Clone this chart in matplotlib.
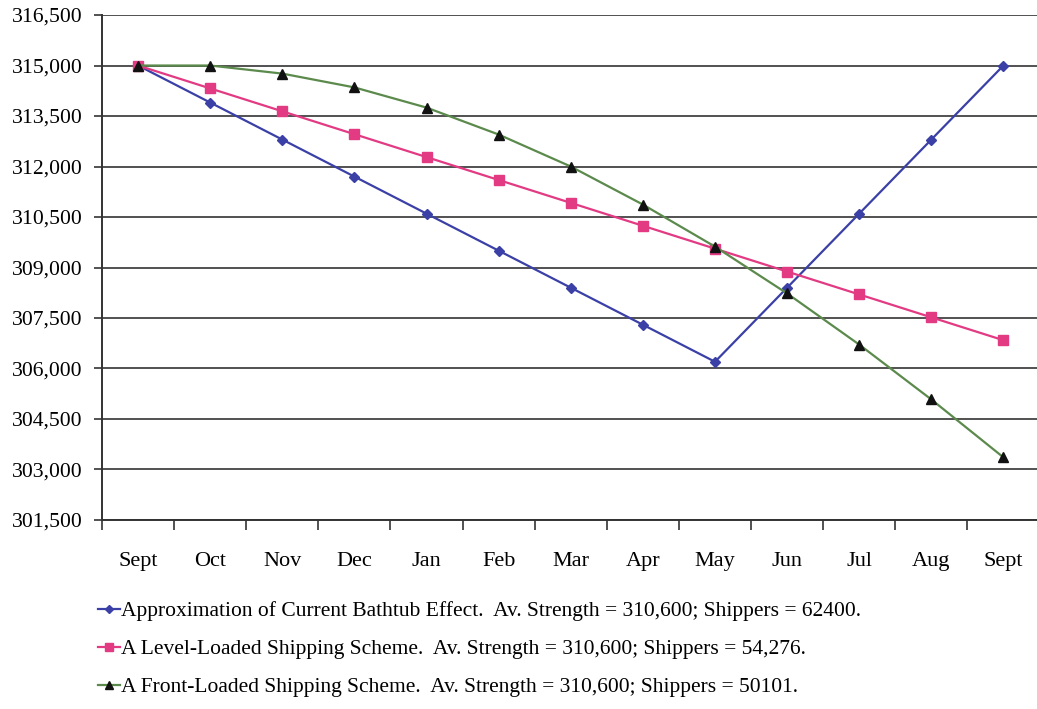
import numpy as np
import matplotlib
matplotlib.use("Agg")
import matplotlib.pyplot as plt
from matplotlib.ticker import FuncFormatter

months = ["Sept", "Oct", "Nov", "Dec", "Jan", "Feb", "Mar", "Apr", "May", "Jun", "Jul", "Aug", "Sept"]

bathtub = [315000, 313900, 312800, 311700, 310600, 309500, 308400, 307300, 306200,
           308400, 310600, 312800, 315000]
level = [315000, 314320, 313640, 312960, 312280, 311600, 310920, 310240, 309560,
         308880, 308200, 307520, 306840]
front = [315000, 315000, 314760, 314350, 313750, 312950, 312000, 310870, 309620,
         308230, 306710, 305080, 303360]

labels = ["Approximation of Current Bathtub Effect.  Av. Strength = 310,600; Shippers = 62400.",
          "A Level-Loaded Shipping Scheme.  Av. Strength = 310,600; Shippers = 54,276.",
          "A Front-Loaded Shipping Scheme.  Av. Strength = 310,600; Shippers = 50101."]

yticks = [301500, 303000, 304500, 306000, 307500, 309000, 310500, 312000, 313500, 315000, 316500]

plt.rcParams['font.family'] = ['Liberation Serif', 'DejaVu Serif']

fig = plt.figure(figsize=(10.37, 7.09), dpi=100)
ax = fig.add_axes([0.0984, 0.2666, 0.9040, 0.7122])

x = np.arange(len(months))
ax.plot(x, bathtub, color='#3b40a6', lw=1.6, marker='D', ms=5, mfc='#3b40a6', mec='#3b40a6', label=labels[0])
ax.plot(x, level, color='#e23a83', lw=1.6, marker='s', ms=7, mfc='#e23a83', mec='#e23a83', label=labels[1])
ax.plot(x, front, color='#5b8a4c', lw=1.6, marker='^', ms=7, mfc='#111111', mec='#111111', label=labels[2])

ax.set_xlim(-0.5, len(months) - 0.5)
ax.set_ylim(301500, 316500)
ax.set_yticks(yticks)
ax.yaxis.set_major_formatter(FuncFormatter(lambda v, p: f"{int(v):,}"))
ax.grid(axis='y', color='#333333', lw=1.2)
ax.set_axisbelow(True)

ax.set_xticks(x)
ax.set_xticklabels(months)
ax.set_xticks(np.arange(-0.5, len(months), 1.0), minor=True)
ax.tick_params(axis='x', which='major', length=0, pad=23, labelsize=16)
ax.tick_params(axis='x', which='minor', length=7, width=1.2, direction='out', color='#333333')
ax.tick_params(axis='y', length=6, width=1.2, direction='out', pad=8, labelsize=15.6, color='#333333')

for side in ['top', 'right']:
    ax.spines[side].set_visible(False)
for side in ['left', 'bottom']:
    ax.spines[side].set_color('#333333')
    ax.spines[side].set_linewidth(1.4)

leg = ax.legend(loc='upper left', bbox_to_anchor=(-0.0135, -0.144), frameon=False, fontsize=15.5,
                handlelength=1.0, handletextpad=0.05, labelspacing=0.83, borderaxespad=0,
                markerscale=0.8)

fig.savefig('out.png', dpi=100)
